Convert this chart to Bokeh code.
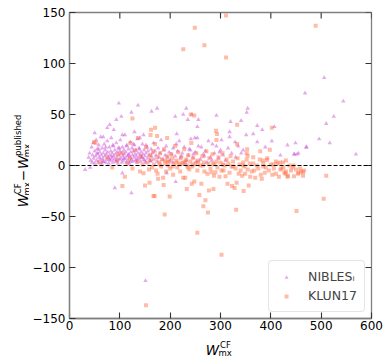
import math
from bokeh.plotting import figure
from bokeh.layouts import column, row
from bokeh.models import (Span, FixedTicker, Legend, LegendItem, Range1d)
from bokeh.core.properties import value
from bokeh.embed import file_html
from bokeh.resources import INLINE

# ---------------- data ----------------
nibles_x = [38, 40, 42, 44, 45, 46, 47, 48, 50, 50, 52, 53, 54, 55, 56, 57, 58, 59, 60, 61,
            62, 63, 64, 65, 66, 67, 68, 69, 70, 71, 72, 73, 74, 75, 76, 77, 78, 79, 80, 81,
            82, 83, 84, 85, 86, 87, 88, 89, 90, 91, 92, 93, 94, 95, 96, 97, 98, 99, 100, 101,
            102, 103, 104, 105, 106, 107, 108, 109, 110, 111, 112, 113, 114, 115, 116, 117, 118, 119, 120, 121,
            122, 123, 124, 125, 126, 127, 128, 129, 130, 131, 132, 133, 134, 135, 136, 137, 138, 140, 141, 142,
            143, 145, 146, 147, 148, 150, 151, 152, 154, 155, 156, 158, 160, 162, 163, 165, 167, 168, 170, 172,
            174, 176, 178, 180, 182, 185, 187, 190, 192, 195, 198, 200, 203, 206, 210, 213, 215, 218, 220, 224,
            228, 232, 236, 240, 241, 245, 249, 250, 254, 256, 260, 262, 266, 270, 276, 280, 284, 288, 292, 296,
            300, 305, 310,
            98, 136, 123, 103, 93, 80, 75, 50, 67, 88, 105, 129, 140, 147, 174, 163, 232, 243, 226, 210,
            235, 256, 254, 292, 354, 352, 341, 320, 373, 407, 383, 365, 351, 318, 318, 329, 373, 402, 433, 449,
            470, 322, 341, 389, 419, 446, 455, 468, 506, 544, 525, 510, 496, 517, 569, 471, 452, 447,
            31, 41, 105, 90, 123, 193, 211, 151,
            58, 72, 86, 99, 113, 127, 139, 152, 66, 79, 94, 108, 121, 134, 149, 161, 55, 84, 117, 144,
            205, 222, 238, 252, 268, 283, 298, 315, 330, 345, 212, 230, 246, 273, 302, 335]
nibles_y = [8, 12, 5, 18, 3, 10, 22, 7, 14, 2, 9, 25, 5, 16, 11, 3, 20, 8, 13, 6,
            28, 10, 2, 17, 7, 12, 4, 21, 9, 15, 3, 11, 6, 24, 13, 8, 2, 18, 10, 5,
            14, 27, 7, 12, 3, 19, 9, 6, 15, 11, 4, 22, 8, 13, 2, 17, 10, 6, 14, 25,
            7, 12, 3, 18, 9, 5, 15, 11, 30, 7, 13, 3, 20, 9, 5, 16, 11, 2, 8, 23,
            13, 6, 17, 10, 4, 14, 8, 20, 11, 5, 15, 9, 3, 26, 12, 7, 17, 10, 4, 13,
            8, 21, 11, 6, 15, 9, 3, 12, 18, 7, 14, 10, 5, 16, 9, 12, 22, 6, 14, 10,
            4, 17, 8, 12, 25, 6, 15, 10, 19, 8, 13, 5, 11, 17, 9, 31, 14, 24, 7, 12,
            18, 5, 10, 15, 26, 8, 27, 13, 27, 19, 6, 18, 11, 14, 24, 8, 21, 12, 19, 7,
            15, 10, 5,
            61, 59, 52, 48, 45, 40, 37, 32, 28, 35, 30, 33, 27, 30, 56, 53, 56, 50, 50, 48,
            45, 45, 38, 49, 56, 52, 44, 43, 39, 38, 35, 31, 30, 33, 28, 23, 23, 24, 20, 22,
            18, 12, 12, 18, 10, 11, 12, 71, 86, 63, 48, 41, 26, 22, 11, 18, 11, 11,
            -4, -2, -7.5, -22, -27, -7.5, -16, -113,
            16, 18, 20, 17, 19, 21, 16, 20, 4, 6, 5, 7, 4, 6, 5, 4, 12, 9, 10, 8,
            3, 9, 16, 4, 9, 5, 13, 17, 8, 15, 21, 2, 11, 3, 25, 19]

klun_x = [60, 75, 85, 95, 105, 110, 105, 115, 120, 125, 130, 135, 140, 142, 145, 147, 150, 152, 155, 158,
          159, 160, 162, 164, 166, 168, 170, 172, 174, 175, 176, 178, 180, 182, 184, 186, 187, 188, 190, 192,
          194, 196, 198, 200, 202, 204, 206, 208, 210, 212, 214, 216, 218, 220, 222, 224, 226, 228, 230, 232,
          233, 234, 236, 238, 240, 242, 243, 244, 246, 248, 250, 252, 254, 256, 258, 260, 262, 264, 266, 267,
          268, 270, 272, 274, 275, 276, 277, 278, 280, 282, 284, 286, 287, 288, 290, 292, 294, 296, 298, 300,
          302, 304, 306, 308, 310, 312, 314, 316, 318, 320, 322, 323, 325, 328, 330, 332, 334, 336, 338, 340,
          343, 345, 346, 348, 349, 352, 354, 356, 358, 359, 362, 365, 367, 369, 372, 375, 378, 380, 382, 385,
          388, 390, 393, 396, 400, 403, 406, 410, 413, 416, 419, 421, 424, 427, 429, 430, 433, 434, 437, 440,
          443, 446, 450, 454, 455, 458, 460, 464, 464, 466,
          226, 249, 268, 311, 311, 489,
          125, 52, 121, 136, 97, 170, 241, 248, 161, 194, 291, 293, 292, 333, 402, 333, 353, 379, 398, 352,
          354, 384, 392, 410, 418, 430, 162, 174, 49,
          152, 302, 254, 189, 451, 505, 331, 199, 167, 169, 510,
          180, 195, 205, 215, 225, 235, 245, 255, 265, 285, 305, 325, 345, 365, 385, 405, 425, 445, 190, 230]
klun_y = [3, 8, -2, 5, 12, -11, -20, 2, 7, -3, 15, 4, -6, 9, 1, -7.5, -19.6, 18, 3, -4,
          -17, 10, 6, -2, 14, 1, 21, -5, 8, -8, -13, 3, 12, -1, 6, -12, -19, 16, 2, -6,
          9, 0, 4, -3, 11, 7, -9, 2, 19, 5, -2, 13, 1, -6, 8, 3, -12, 16, -12, 6,
          -23, 0, 10, -4, 4, 22, -18, -1, 7, -15.7, 2, 12, -5, 5, -29, 0, -18, 9, -40, 3,
          -6, -34, 14, -8, -46, 2, -24.5, 7, -3, -6.5, 11, -23, -10, 1, -6.5, 4, -2, 8, -11, 3,
          -5, 12, -5, 0, -10.5, 6, -18, 2, -7, 9, -1, -20, 4, -22, -3, -17, 7, -8, 1, -5,
          -10, 3, -25, -1, -8, 6, -4, -19.6, 2, -11, -6, 8, -5, -12, 0, -3, 6, -9, -13, 2,
          -7, -2, 7, -5, 1, -9, -3, -8, 2, -11, -4, -3, 3, -7, -8, -6, -11, -10, 0, -5,
          -2, -10.5, -4, -8, -7, -3, -6, -6.5, -10, -5,
          114, 135, 118, 147, 106, 137,
          46, 22, 22, 27, 11, 37, 50, 49, 30, 27, 34, 31, 25, 40, 37, 21, 16, 14, 15.5, 12,
          9.5, 5, 5.5, 4, 3, 5, 35, 29, 23,
          -137, -87.5, -66, -48, -44.5, -32.7, -43.5, -30.4, -30, -30, -10,
          1, 4, -1, 3, 2, -2, 1, 3, 0, 2, 1, -1, 0, 2, -1, 1, -2, 0, 5, 4]

x_ticks = [0, 100, 200, 300, 400, 500, 600]
y_ticks = [-150, -100, -50, 0, 50, 100, 150]
y_tick_labels = {-150: "\u2212150", -100: "\u2212100", -50: "\u221250", 0: "0", 50: "50", 100: "100", 150: "150"}
series_names = ["NIBLES\u1d62", "KLUN17"]

FONT = "DejaVu Sans"
AX = "#808080"
PURPLE = "#c844d0"
ORANGE = "#ff6a3d"
YLAB_W = 29
MAIN_W, MAIN_H = 355, 336
BL, BR, BT, BB = 37, 13, 12, 18
XLAB_H = 20

p = figure(width=MAIN_W, height=MAIN_H, output_backend="svg", toolbar_location=None,
           x_range=Range1d(0, 600), y_range=Range1d(-150, 150),
           min_border_left=BL, min_border_right=BR, min_border_top=BT, min_border_bottom=BB)
p.grid.visible = False
p.outline_line_color = AX
p.outline_line_width = 1.3
p.background_fill_color = "white"
p.border_fill_color = "white"

for ax in (p.xaxis[0], p.yaxis[0]):
    ax.major_tick_in = 6
    ax.major_tick_out = 0
    ax.minor_tick_line_color = None
    ax.axis_line_color = AX
    ax.axis_line_width = 1.3
    ax.major_tick_line_color = "#333333"
    ax.major_tick_line_width = 1.1
    ax.major_label_text_font = FONT
    ax.major_label_text_font_size = "12px"
    ax.major_label_text_color = "black"
p.xaxis.major_label_standoff = 2
p.yaxis.major_label_standoff = 4
p.xaxis.ticker = FixedTicker(ticks=x_ticks)
p.yaxis.ticker = FixedTicker(ticks=y_ticks)
p.yaxis.major_label_overrides = y_tick_labels

# inward ticks on the top and right frame edges
p.ray(x=x_ticks, y=[y_ticks[-1]] * len(x_ticks), length=6, length_units="screen",
      angle=-math.pi / 2, line_color="#333333", line_width=1.1)
p.ray(x=[x_ticks[-1]] * len(y_ticks), y=y_ticks, length=6, length_units="screen",
      angle=math.pi, line_color="#333333", line_width=1.1)

p.add_layout(Span(location=0, dimension="width", line_color="black",
                  line_dash="4 2", line_width=1))

r1 = p.scatter(nibles_x, nibles_y, marker="triangle", size=4.5,
               fill_color=PURPLE, line_color=None, fill_alpha=0.45)
r2 = p.scatter(klun_x, klun_y, marker="square", size=4,
               fill_color=ORANGE, line_color=None, fill_alpha=0.45)

leg = Legend(items=[LegendItem(label=series_names[0], renderers=[r1]),
                    LegendItem(label=series_names[1], renderers=[r2])],
             location="bottom_right")
leg.label_text_font = FONT
leg.label_text_font_size = "12.5px"
leg.label_height = 17
leg.glyph_height = 10
leg.glyph_width = 20
leg.label_standoff = 12
leg.padding = 7
leg.spacing = 2
leg.margin = 6
leg.border_line_color = "#cccccc"
leg.border_line_width = 1
leg.border_radius = 4
leg.background_fill_alpha = 0.85
p.add_layout(leg, "center")

# ---------------- math-like axis labels built from text pieces ----------------
EM = {"W": 0.989, "C": 0.698, "F": 0.575, "m": 0.974, "x": 0.592, "p": 0.635, "u": 0.634,
      "b": 0.635, "l": 0.278, "i": 0.278, "s": 0.521, "h": 0.634, "e": 0.615, "d": 0.635,
      "\u2212": 0.838}
BIG, SMALL = 13.5, 8.5


def tw(s, size):
    return sum(EM.get(c, 0.6) for c in s) * size


def pieces(seq):
    out, pos = [], 0.0
    for base, sup, sub in seq:
        if base == "\u2212":
            pos += 2
            out.append((base, pos, 0, BIG, False))
            pos += tw(base, BIG) + 2
            continue
        out.append((base, pos, 0, BIG, True))
        pos += tw(base, BIG)
        out.append((sup, pos + 1, 5, SMALL, False))
        out.append((sub, pos - 0.5, -3.5, SMALL, False))
        pos += max(tw(sup, SMALL) + 1, tw(sub, SMALL))
    return out, pos


def label_fig(w, h):
    f = figure(width=w, height=h, output_backend="svg", toolbar_location=None,
               x_range=Range1d(0, w), y_range=Range1d(0, h),
               x_axis_location=None, y_axis_location=None, min_border=0)
    f.grid.visible = False
    f.outline_line_color = None
    f.border_fill_color = "white"
    return f


def draw_label(f, seq, horizontal, cx, base):
    items, total = pieces(seq)
    for text, along, shift, size, italic in items:
        if horizontal:
            x, y, ang = cx - total / 2 + along, base + shift, 0
        else:
            x, y, ang = base - shift, cx - total / 2 + along, math.pi / 2
        f.text(x=[x], y=[y], text=[text], angle=ang, text_font=value(FONT),
               text_font_size=value(f"{size}px"),
               text_font_style="italic" if italic else "normal",
               text_color="black", text_align="left", text_baseline="alphabetic")


# y label figure: centred on the main frame's vertical centre
ylab = label_fig(YLAB_W, MAIN_H)
frame_cy = BB + (MAIN_H - BT - BB) / 2
draw_label(ylab, [("W", "CF", "mx"), ("\u2212", "", ""), ("W", "published", "mx")],
           False, frame_cy, 22.5)

# x label figure: centred on the main frame's horizontal centre
xlab = label_fig(YLAB_W + MAIN_W, XLAB_H)
frame_cx = YLAB_W + BL + (MAIN_W - BL - BR) / 2
draw_label(xlab, [("W", "CF", "mx")], True, frame_cx, 7)

layout = column(row(ylab, p, spacing=0), xlab, spacing=0)
open("out.html", "w").write(file_html(layout, INLINE))
